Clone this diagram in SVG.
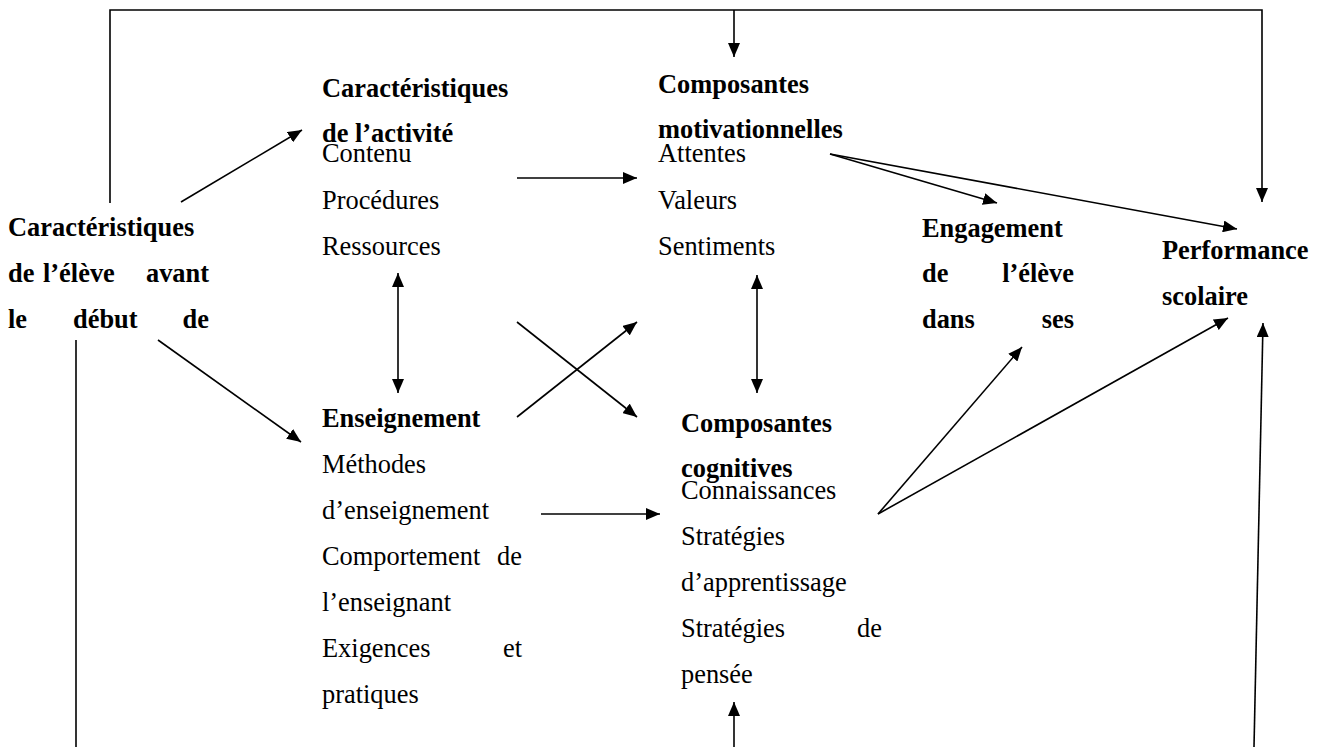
<svg xmlns="http://www.w3.org/2000/svg" width="1320" height="747" viewBox="0 0 1320 747">
<style>
text{font-family:"Liberation Serif","Times New Roman",serif;font-size:26.4px;fill:#000}
.b{font-weight:bold}
.e{text-anchor:end}
.c line,.c polyline{stroke:#000;stroke-width:1.6;fill:none}
.a{marker-end:url(#ah)}
.d{marker-end:url(#ah);marker-start:url(#ah)}
</style>
<defs>
<marker id="ah" markerUnits="userSpaceOnUse" markerWidth="15" markerHeight="12" refX="14" refY="6" orient="auto-start-reverse">
<path d="M0,0 L14,6 L0,12 z" fill="#000"/>
</marker>
</defs>
<rect width="1320" height="747" fill="#fff"/>
<g id="connectors" class="c">
<polyline points="110,203 110,10 1262,10 1262,202" class="a"/>
<line x1="734" y1="10" x2="734" y2="57" class="a"/>
<line x1="76" y1="340" x2="76" y2="747"/>
<line x1="181" y1="202" x2="302" y2="130" class="a"/>
<line x1="158" y1="340" x2="301" y2="442" class="a"/>
<line x1="517" y1="178" x2="637" y2="178" class="a"/>
<line x1="398" y1="273" x2="398" y2="393" class="d"/>
<line x1="517" y1="322" x2="637" y2="417" class="a"/>
<line x1="517" y1="417" x2="637" y2="322" class="a"/>
<line x1="757" y1="275" x2="757" y2="393" class="d"/>
<line x1="830" y1="154" x2="997" y2="203" class="a"/>
<line x1="830" y1="154" x2="1237" y2="229" class="a"/>
<line x1="541" y1="514" x2="660" y2="514" class="a"/>
<line x1="878" y1="514" x2="1022" y2="347" class="a"/>
<line x1="878" y1="514" x2="1228" y2="318" class="a"/>
<line x1="734" y1="747" x2="734" y2="702" class="a"/>
<line x1="1254" y1="747" x2="1263" y2="323" class="a"/>
</g>
<g id="eleve">
<text class="b" x="8" y="236">Caractéristiques</text>
<text class="b" y="282"><tspan x="8">de</tspan><tspan x="43">l’élève</tspan></text>
<text class="b e" x="209" y="282">avant</text>
<text class="b" y="328"><tspan x="8">le</tspan><tspan x="73">début</tspan></text>
<text class="b e" x="209" y="328">de</text>
</g>
<g id="activite">
<text class="b" x="322" y="97">Caractéristiques</text>
<text class="b" x="322" y="142">de l’activité</text>
<text x="322" y="162">Contenu</text>
<text x="322" y="209">Procédures</text>
<text x="322" y="255">Ressources</text>
</g>
<g id="motivationnelles">
<text class="b" x="658" y="93">Composantes</text>
<text class="b" x="658" y="138">motivationnelles</text>
<text x="658" y="162">Attentes</text>
<text x="658" y="209">Valeurs</text>
<text x="658" y="255">Sentiments</text>
</g>
<g id="engagement">
<text class="b" x="922" y="237">Engagement</text>
<text class="b" x="922" y="282">de</text>
<text class="b e" x="1074" y="282">l’élève</text>
<text class="b" x="922" y="328">dans</text>
<text class="b e" x="1074" y="328">ses</text>
</g>
<g id="performance">
<text class="b" x="1162" y="259">Performance</text>
<text class="b" x="1162" y="305">scolaire</text>
</g>
<g id="enseignement">
<text class="b" x="322" y="427">Enseignement</text>
<text x="322" y="473">Méthodes</text>
<text x="322" y="519">d’enseignement</text>
<text x="322" y="565">Comportement</text>
<text class="e" x="522" y="565">de</text>
<text x="322" y="611">l’enseignant</text>
<text x="322" y="657">Exigences</text>
<text class="e" x="522" y="657">et</text>
<text x="322" y="703">pratiques</text>
</g>
<g id="cognitives">
<text class="b" x="681" y="432">Composantes</text>
<text class="b" x="681" y="477">cognitives</text>
<text x="681" y="499">Connaissances</text>
<text x="681" y="545">Stratégies</text>
<text x="681" y="591">d’apprentissage</text>
<text x="681" y="637">Stratégies</text>
<text class="e" x="882" y="637">de</text>
<text x="681" y="683">pensée</text>
</g>
</svg>
